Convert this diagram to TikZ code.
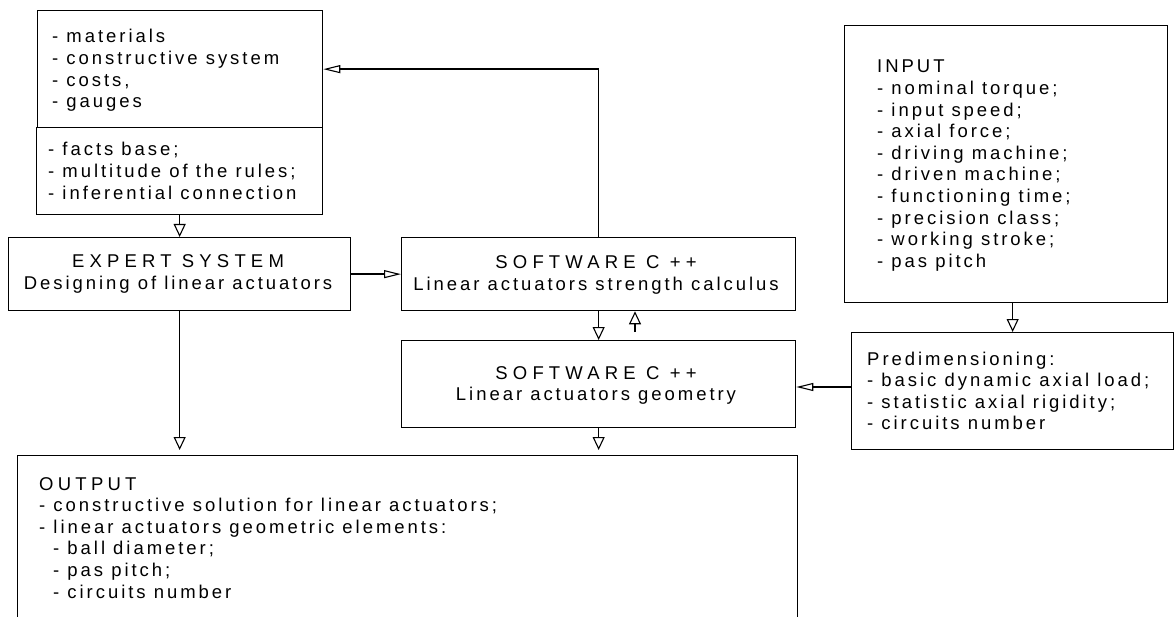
\documentclass[tikz,border=0pt]{standalone}
\usepackage{fontspec}
\setmainfont{Liberation Sans}[LetterSpace=16]
\newfontfamily\capsfont{Liberation Sans}[LetterSpace=23]
\newfontfamily\widecapsfont{Liberation Sans}[LetterSpace=28]
\usetikzlibrary{arrows.meta}
\tikzset{
  box/.style={draw, line width=1.3pt, inner sep=0pt, anchor=north west},
  txt/.style={inner sep=0pt, font=\fontsize{18.5}{21.6}\selectfont},
  arrV/.style={line width=1.3pt, -{Triangle[open,length=13pt,width=12pt,line width=1.1pt]}},
  arrH/.style={line width=1.3pt, -{Triangle[open,length=17pt,width=8pt,line width=1.1pt]}}
}
\newcommand{\capsline}[1]{{\capsfont #1}}
\newcommand{\widecaps}[1]{{\widecapsfont #1}}
\begin{document}
\begin{tikzpicture}[x=1pt,y=-1pt]
\useasboundingbox (0,0) rectangle (1174,617);
\clip (0,0) rectangle (1174,617);
% boxes
\node[box, minimum width=285pt, minimum height=117pt] (mat) at (37,10) {};
\node[box, minimum width=286pt, minimum height=87pt] (facts) at (36,127) {};
\node[box, minimum width=342pt, minimum height=73pt] (expert) at (8,237) {};
\node[box, minimum width=394pt, minimum height=73pt] (sw1) at (401,237) {};
\node[box, minimum width=394pt, minimum height=87pt] (sw2) at (401,340) {};
\node[box, minimum width=780pt, minimum height=200pt] (out) at (17,455) {};
\node[box, minimum width=323pt, minimum height=277pt] (input) at (844,25) {};
\node[box, minimum width=322pt, minimum height=117pt] (pre) at (851,332) {};
% texts
\node[txt, anchor=base west] (matT) at (52,43) {\begin{tabular}[t]{@{}l@{}}- materials\\- constructive system\\- costs,\\- gauges\end{tabular}};
\node[txt, anchor=base west] (factsT) at (48,156) {\begin{tabular}[t]{@{}l@{}}- facts base;\\- multitude of the rules;\\- inferential connection\end{tabular}};
\node[txt, anchor=base] (expertT) at (178,268) {\begin{tabular}[t]{@{}c@{}}\widecaps{EXPERT SYSTEM}\\Designing of linear actuators\end{tabular}};
\node[txt, anchor=base] (sw1T) at (596,269) {\begin{tabular}[t]{@{}c@{}}\widecaps{SOFTWARE C ++}\\Linear actuators strength calculus\end{tabular}};
\node[txt, anchor=base] (sw2T) at (596,379) {\begin{tabular}[t]{@{}c@{}}\widecaps{SOFTWARE C ++}\\Linear actuators geometry\end{tabular}};
\node[txt, anchor=base west] (inputT) at (877,73) {\begin{tabular}[t]{@{}l@{}}INPUT\\- nominal torque;\\- input speed;\\- axial force;\\- driving machine;\\- driven machine;\\- functioning time;\\- precision class;\\- working stroke;\\- pas pitch\end{tabular}};
\node[txt, anchor=base west] (preT) at (867,365) {\begin{tabular}[t]{@{}l@{}}Predimensioning:\\- basic dynamic axial load;\\- statistic axial rigidity;\\- circuits number\end{tabular}};
\node[txt, anchor=base west] (outT) at (39,490) {\begin{tabular}[t]{@{}l@{}}\capsline{OUTPUT}\\- constructive solution for linear actuators;\\- linear actuators geometric elements:\\\hspace*{14pt}- ball diameter;\\\hspace*{14pt}- pas pitch;\\\hspace*{14pt}- circuits number\end{tabular}};
% connectors
\coordinate (up) at (635,332);
\coordinate (pp) at (0,387);
\draw[arrV] (facts.south) -- (expert.north);
\draw[arrH] (expert.east) -- (sw1.west);
\draw[arrH] (sw1.north) |- (mat.east);
\draw[arrV] (sw1.south) -- (sw2.north);
\draw[arrV] (up) -- (sw1.south -| up);
\draw[arrV, shorten >=5pt] (sw2.south) -- (out.north -| sw2.south);
\draw[arrV, shorten >=5pt] (expert.south) -- (out.north -| expert.south);
\draw[arrV] (input.south -| pre.north) -- (pre.north);
\draw[arrH] (pre.west |- pp) -- (sw2.east |- pp);
\end{tikzpicture}
\end{document}
